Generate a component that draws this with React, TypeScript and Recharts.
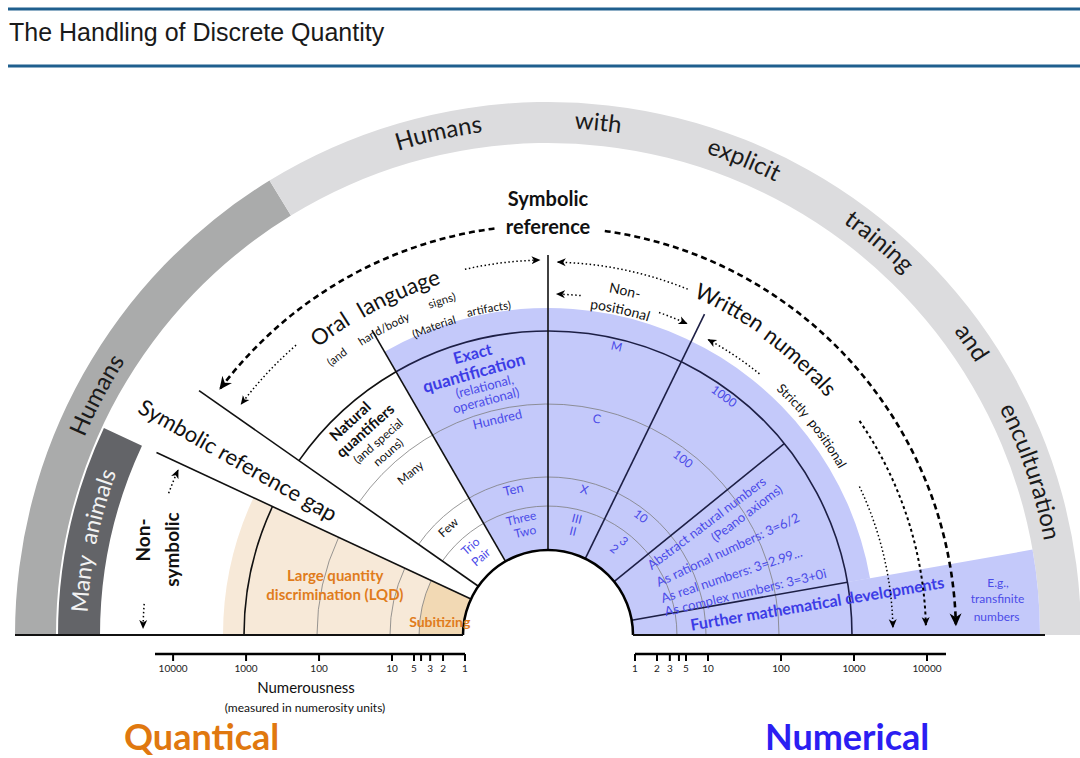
import React from 'react';
import { PieChart, Pie, Cell, LineChart, Line, XAxis, YAxis } from 'recharts';

const W = 1080;
const H = 758;
const CX = 548;
const CY = 635;
const FONT = "Lato, 'Open Sans', 'DejaVu Sans', sans-serif";
const BLUE_FILL = '#c4c9fa';
const LABEL_BLUE = '#4b4be8';
const ORANGE = '#e07c1c';
const NAVY = '#1d1f45';

// radius scale (numerousness -> px, logarithmic)
const R_HOLE = 85;
const R_DECADE = 73;
const rOf = (n: number) => R_HOLE + R_DECADE * Math.log10(n);

// ---------- data ----------
const TITLE = 'The Handling of Discrete Quantity';

// angular spans in degrees, clockwise from the left baseline (180°) to the right (0°)
const outerBand = [
  { name: 'Humans', span: 58.5, fill: '#aaabab' },
  { name: 'Humans with explicit training and enculturation', span: 121.5, fill: '#dcdcde' },
];
const animalBand = [
  { name: 'Many animals', span: 25, fill: '#636468' },
  { name: 'rest', span: 155, fill: 'none' },
];
const quanticalSector = [
  { name: 'Large quantity discrimination (LQD)', span: 25, fill: '#f7e9d8' },
  { name: 'rest', span: 155, fill: 'none' },
];
const subitizingSector = [
  { name: 'Subitizing', span: 25, fill: '#f2d9b4' },
  { name: 'rest', span: 155, fill: 'none' },
];
const numericalSector = [
  { name: 'rest', span: 60, fill: 'none' },
  { name: 'Exact quantification', span: 110, fill: BLUE_FILL },
  { name: 'Further', span: 10, fill: BLUE_FILL },
];
const furtherSector = [
  { name: 'rest', span: 170, fill: 'none' },
  { name: 'Further mathematical developments', span: 10, fill: BLUE_FILL },
];

// numerousness values of the concentric arcs
const thinArcValues = [4, 10, 100];
const darkArcValue = 1000;
// radial boundary lines (angle, outer radius px)
const radialLines = [
  { a: 155, r1: 432, color: '#111' },
  { a: 145, r1: 426, color: '#111' },
  { a: 120, r1: 352, color: '#111' },
  { a: 90, r1: 380, color: '#111' },
  { a: 64, r1: 357, color: NAVY },
  { a: 39, r1: rOf(1000), color: NAVY },
  { a: 10, r1: rOf(1000), color: NAVY },
];

// axis ticks
const quantTicks = [1, 2, 3, 4, 5, 10, 100, 1000, 10000];
const numTicks = [1, 2, 3, 4, 5, 10, 100, 1000, 10000];
const quantAxisData = quantTicks.map((n) => ({ n, y: 0 }));
const numAxisData = numTicks.map((n) => ({ n, y: 0 }));

// words on the outer bands (angle of centre, baseline radius)
const bandWords = [
  { text: 'Humans', a: 102.3, r: 507, size: 24, color: '#1a1a1a' },
  { text: 'with', a: 84.4, r: 507, size: 24, color: '#1a1a1a' },
  { text: 'explicit', a: 67.6, r: 507, size: 24, color: '#1a1a1a' },
  { text: 'training', a: 49.9, r: 507, size: 24, color: '#1a1a1a' },
  { text: 'and', a: 34.6, r: 507, size: 24, color: '#1a1a1a' },
  { text: 'enculturation', a: 18.7, r: 505, size: 24, color: '#1a1a1a' },
  { text: 'Humans', a: 152, r: 504, size: 24, color: '#1a1a1a' },
  { text: 'Many  animals', a: 168.3, r: 461, size: 23, color: '#f2f2f2' },
];

// curved labels inside the diagram
const arcWords = [
  { text: 'Oral', a: 125.5, r: 368, size: 22 },
  { text: 'language', a: 113.6, r: 367, size: 22 },
  { text: '(and', a: 127.2, r: 345, size: 11.5 },
  { text: 'hand/body', a: 118.2, r: 344, size: 11.5 },
  { text: 'signs)', a: 107.6, r: 347, size: 11.5 },
  { text: '(Material', a: 110.3, r: 325, size: 11.5 },
  { text: 'artifacts)', a: 100.3, r: 328, size: 11.5 },
  { text: 'Non-', a: 77.4, r: 348, size: 14 },
  { text: 'positional', a: 77.5, r: 329, size: 14 },
  { text: 'Written', a: 61, r: 368, size: 22 },
  { text: 'numerals', a: 47.3, r: 366, size: 22 },
  { text: 'Strictly  positional', a: 38.4, r: 335, size: 13 },
];

// labels rotated tangentially (rotation = 90 - angle)
const tangentLabels = [
  { text: 'Exact', a: 105, r: 292, size: 16, bold: true, color: '#3c3ce6' },
  { text: 'quantification', a: 105.8, r: 273, size: 17, bold: true, color: '#3c3ce6' },
  { text: '(relational,', a: 104.3, r: 257, size: 13, bold: false, color: LABEL_BLUE },
  { text: 'operational)', a: 104.8, r: 243, size: 13, bold: false, color: LABEL_BLUE },
  { text: 'Hundred', a: 103.2, r: 222, size: 13, bold: false, color: LABEL_BLUE },
  { text: 'Ten', a: 103.4, r: 150, size: 13, bold: false, color: LABEL_BLUE },
  { text: 'Three', a: 103, r: 120, size: 12, bold: false, color: LABEL_BLUE },
  { text: 'Two', a: 102.5, r: 106, size: 12, bold: false, color: LABEL_BLUE },
  { text: 'M', a: 76.6, r: 297, size: 12, bold: false, color: LABEL_BLUE },
  { text: 'C', a: 77.3, r: 222, size: 12, bold: false, color: LABEL_BLUE },
  { text: 'X', a: 76, r: 150, size: 12, bold: false, color: LABEL_BLUE },
  { text: 'III', a: 76, r: 120, size: 12, bold: false, color: LABEL_BLUE },
  { text: 'II', a: 76.5, r: 107, size: 12, bold: false, color: LABEL_BLUE },
  { text: '1000', a: 53.6, r: 297, size: 12, bold: false, color: LABEL_BLUE },
  { text: '100', a: 52.5, r: 222, size: 12, bold: false, color: LABEL_BLUE },
  { text: '10', a: 52, r: 151, size: 12, bold: false, color: LABEL_BLUE },
  { text: '3', a: 51, r: 121, size: 12, bold: false, color: LABEL_BLUE },
  { text: '2', a: 52.4, r: 109, size: 12, bold: false, color: LABEL_BLUE },
  { text: 'Natural', a: 132.8, r: 292, size: 15, bold: true, color: '#111' },
  { text: 'quantifiers', a: 131.8, r: 275, size: 15, bold: true, color: '#111' },
  { text: '(and special', a: 131.2, r: 258, size: 12, bold: false, color: '#111' },
  { text: 'nouns)', a: 131.2, r: 243, size: 12, bold: false, color: '#111' },
  { text: 'Many', a: 130.3, r: 213, size: 12, bold: false, color: '#111' },
  { text: 'Few', a: 132.8, r: 147, size: 12, bold: false, color: '#111' },
  { text: 'Trio', a: 131.2, r: 118, size: 12, bold: false, color: LABEL_BLUE },
  { text: 'Pair', a: 130.7, r: 103, size: 12, bold: false, color: LABEL_BLUE },
];

// labels rotated radially
const radialLabels = [
  { text: 'Abstract natural numbers', a: 35.3, r: 194, rot: -37 },
  { text: '(Peano axioms)', a: 31.6, r: 233, rot: -37 },
  { text: 'As rational numbers: 3=6/2', a: 25.5, r: 199, rot: -25 },
  { text: 'As real numbers: 3=2.99...', a: 18.2, r: 193, rot: -18.5 },
  { text: 'As complex numbers: 3=3+0i', a: 12.3, r: 202, rot: -13.5 },
];

// dashed / dotted arrows along arcs: radius, from angle, to angle
const arrows = [
  { r: 410, a0: 97.5, a1: 143, kind: 'dash' },
  { r: 408, a0: 82, a1: 1.5, kind: 'dash' },
  { r: 375, a0: 102.8, a1: 91.3, kind: 'dot' },
  { r: 384, a0: 131, a1: 143, kind: 'dot' },
  { r: 373, a0: 68, a1: 88.5, kind: 'dot' },
  { r: 341, a0: 84.5, a1: 88.5, kind: 'dot' },
  { r: 341, a0: 71, a1: 66, kind: 'dot' },
  { r: 336, a0: 51, a1: 61.5, kind: 'dot' },
  { r: 345, a0: 25.5, a1: 1.3, kind: 'dot' },
  { r: 378, a0: 34.5, a1: 1.5, kind: 'dot2' },
  { r: 405, a0: 159.5, a1: 156, kind: 'dot' },
  { r: 405, a0: 175.6, a1: 179, kind: 'dot' },
];

// ---------- geometry helpers ----------
const pt = (r: number, a: number): [number, number] => [
  CX + r * Math.cos((a * Math.PI) / 180),
  CY - r * Math.sin((a * Math.PI) / 180),
];
const arcD = (r: number, a0: number, a1: number) => {
  const [x0, y0] = pt(r, a0);
  const [x1, y1] = pt(r, a1);
  const large = Math.abs(a1 - a0) > 180 ? 1 : 0;
  const sweep = a1 < a0 ? 1 : 0;
  return `M${x0.toFixed(2)},${y0.toFixed(2)} A${r},${r} 0 ${large} ${sweep} ${x1.toFixed(2)},${y1.toFixed(2)}`;
};

function CurvedText({ id, text, a, r, size, color, bold }: any) {
  return (
    <g>
      <path id={id} d={arcD(r, a + 35, a - 35)} fill="none" stroke="none" />
      <text fontSize={size} fill={color} fontFamily={FONT} fontWeight={bold ? 700 : 400} style={{ whiteSpace: 'pre' }}>
        <textPath href={`#${id}`} startOffset="50%" textAnchor="middle">
          {text}
        </textPath>
      </text>
    </g>
  );
}

function Overlay() {
  const dark = rOf(darkArcValue);
  return (
    <svg width={W} height={H} style={{ position: 'absolute', left: 0, top: 0 }}>
      <g fontFamily={FONT}>
        <defs>
          <marker id="ahBig" markerWidth="16" markerHeight="16" refX="11" refY="8" orient="auto" markerUnits="userSpaceOnUse">
            <path d="M0,2 L13,8 L0,14 L4,8 Z" fill="#000" />
          </marker>
          <marker id="ahSmall" markerWidth="10" markerHeight="10" refX="8" refY="5" orient="auto" markerUnits="userSpaceOnUse">
            <path d="M0,1 L9,5 L0,9 L2.5,5 Z" fill="#000" />
          </marker>
        </defs>

        {/* title */}
        <line x1={8} y1={9} x2={W} y2={9} stroke="#1f5f8e" strokeWidth={3} />
        <line x1={8} y1={66} x2={W} y2={66} stroke="#1f5f8e" strokeWidth={3} />
        <text x={9} y={41} fontSize={25} fill="#1a1a1a" fontFamily="'Liberation Sans', Arial, sans-serif">
          {TITLE}
        </text>

        {/* concentric arcs */}
        {thinArcValues.map((v) => (
          <g key={v}>
            <path d={arcD(rOf(v), 180, 155)} fill="none" stroke="#7d7d7d" strokeWidth={0.8} />
            <path d={arcD(rOf(v), 145, 0)} fill="none" stroke="#7d7d7d" strokeWidth={0.8} />
          </g>
        ))}
        <path d={arcD(dark, 180, 155)} fill="none" stroke="#111" strokeWidth={1.6} />
        <path d={arcD(dark, 145, 120)} fill="none" stroke="#111" strokeWidth={1.6} />
        <path d={arcD(dark, 120, 0)} fill="none" stroke={NAVY} strokeWidth={1.6} />

        {/* radial lines */}
        {radialLines.map((l) => {
          const [x0, y0] = pt(R_HOLE, l.a);
          const [x1, y1] = pt(l.r1, l.a);
          return <line key={l.a} x1={x0} y1={y0} x2={x1} y2={y1} stroke={l.color} strokeWidth={1.6} />;
        })}

        {/* hole & baseline */}
        <path d={arcD(R_HOLE, 180, 0)} fill="#fff" stroke="#000" strokeWidth={2.5} />
        <line x1={pt(533, 180)[0]} y1={CY} x2={pt(R_HOLE, 180)[0]} y2={CY} stroke="#111" strokeWidth={2} />
        <line x1={pt(R_HOLE, 0)[0]} y1={CY} x2={pt(497, 0)[0]} y2={CY} stroke="#111" strokeWidth={2} />

        {/* band words */}
        {bandWords.map((w, i) => (
          <CurvedText key={`bw${i}`} id={`bw${i}`} {...w} />
        ))}
        {arcWords.map((w, i) => (
          <CurvedText key={`aw${i}`} id={`aw${i}`} {...w} color="#111" />
        ))}

        {/* tangential labels */}
        {tangentLabels.map((l, i) => {
          const [x, y] = pt(l.r, l.a);
          return (
            <text
              key={`tl${i}`}
              x={x}
              y={y}
              fontSize={l.size}
              fontWeight={l.bold ? 700 : 400}
              fill={l.color}
              textAnchor="middle"
              dominantBaseline="central"
              transform={`rotate(${90 - l.a} ${x} ${y})`}
            >
              {l.text}
            </text>
          );
        })}
        {radialLabels.map((l, i) => {
          const [x, y] = pt(l.r, l.a);
          return (
            <text key={`rl${i}`} x={x} y={y} fontSize={13} fill={LABEL_BLUE} textAnchor="middle" dominantBaseline="central" transform={`rotate(${l.rot} ${x} ${y})`}>
              {l.text}
            </text>
          );
        })}

        {/* straight labels */}
        {(() => {
          const [x, y] = pt(356, 150.5);
          return (
            <text x={x} y={y} fontSize={22} fill="#111" textAnchor="middle" dominantBaseline="central" transform={`rotate(29.5 ${x} ${y})`}>
              Symbolic reference gap
            </text>
          );
        })()}
        {(() => {
          const [x1, y1] = pt(416, 166.8);
          const [x2, y2] = pt(386, 167.2);
          return (
            <g fontWeight={700} fontSize={19} fill="#111">
              <text x={x1} y={y1} textAnchor="middle" dominantBaseline="central" transform={`rotate(-90 ${x1} ${y1})`}>Non-</text>
              <text x={x2} y={y2} textAnchor="middle" dominantBaseline="central" transform={`rotate(-90 ${x2} ${y2})`}>symbolic</text>
            </g>
          );
        })()}
        <g fontWeight={700} fontSize={20} fill="#111" textAnchor="middle">
          <text x={pt(437, 90)[0]} y={pt(437, 90)[1]} dominantBaseline="central">Symbolic</text>
          <text x={pt(409, 90)[0]} y={pt(409, 90)[1]} dominantBaseline="central">reference</text>
        </g>
        {(() => {
          const [x1, y1] = pt(221, 164.3);
          const [x2, y2] = pt(217, 169.1);
          const [x3, y3] = pt(109, 173.1);
          return (
            <g fontWeight={700} fill={ORANGE} textAnchor="middle">
              <text x={x1} y={y1} fontSize={15} dominantBaseline="central">Large quantity</text>
              <text x={x2} y={y2} fontSize={15} dominantBaseline="central">discrimination (LQD)</text>
              <text x={x3} y={y3} fontSize={14} dominantBaseline="central">Subitizing</text>
            </g>
          );
        })()}
        {(() => {
          const [x, y] = pt(271, 6.8);
          return (
            <text x={x} y={y} fontSize={16} fontWeight={700} fill="#3c3ce6" textAnchor="middle" dominantBaseline="central" transform={`rotate(-9.6 ${x} ${y})`}>
              Further mathematical developments
            </text>
          );
        })()}
        {(() => {
          const p1 = pt(453, 6.6);
          const p2 = pt(451, 4.6);
          const p3 = pt(449, 2.4);
          return (
            <g fontSize={12} fill={LABEL_BLUE} textAnchor="middle">
              <text x={p1[0]} y={p1[1]} dominantBaseline="central">E.g.,</text>
              <text x={p2[0]} y={p2[1]} dominantBaseline="central">transfinite</text>
              <text x={p3[0]} y={p3[1]} dominantBaseline="central">numbers</text>
            </g>
          );
        })()}

        {/* arrows */}
        {arrows.map((ar, i) => (
          <path
            key={`ar${i}`}
            d={arcD(ar.r, ar.a0, ar.a1)}
            fill="none"
            stroke="#000"
            strokeWidth={ar.kind === 'dash' ? 2.6 : ar.kind === 'dot2' ? 2 : 1.5}
            strokeDasharray={ar.kind === 'dash' ? '6 4' : ar.kind === 'dot2' ? '3 3' : '1.5 2.5'}
            markerEnd={ar.kind === 'dash' ? 'url(#ahBig)' : 'url(#ahSmall)'}
          />
        ))}

        {/* axis captions */}
        <text x={306} y={687} fontSize={15} fill="#111" textAnchor="middle" dominantBaseline="central">Numerousness</text>
        <text x={305} y={707} fontSize={12} fill="#111" textAnchor="middle" dominantBaseline="central">(measured in numerosity units)</text>
        <text x={124} y={750} fontSize={36} fontWeight={700} fill="#e0780f">Quantical</text>
        <text x={765} y={750} fontSize={36} fontWeight={700} fill="#2b1ef2">Numerical</text>
      </g>
    </svg>
  );
}

function AxisChart({ data, ticks, domain, reversed, left, width }: any) {
  const pad = 12;
  return (
    <div style={{ position: 'absolute', left: left - pad, top: 604 }}>
      <LineChart width={width + 2 * pad} height={80} data={data} margin={{ top: 10, right: pad, left: pad, bottom: 0 }}>
        <XAxis
          dataKey="n"
          type="number"
          scale="log"
          domain={domain}
          allowDataOverflow
          reversed={reversed}
          ticks={ticks}
          interval={0}
          height={30}
          tickSize={7}
          tickMargin={4}
          axisLine={{ stroke: '#000', strokeWidth: 2.5 }}
          tickLine={{ stroke: '#000', strokeWidth: 2 }}
          tick={{ fontSize: 10, fill: '#222', fontFamily: FONT }}
          tickFormatter={(v: number) => (v === 4 ? '' : String(v))}
        />
        <YAxis hide domain={[0, 1]} />
        <Line dataKey="y" stroke="none" dot={false} isAnimationActive={false} />
      </LineChart>
    </div>
  );
}

const pieProps = {
  dataKey: 'span',
  cx: CX,
  cy: CY,
  startAngle: 180,
  endAngle: 0,
  stroke: 'none',
  isAnimationActive: false,
};

export default function App() {
  return (
    <div style={{ position: 'absolute', left: 0, top: 0, width: W, height: H, background: '#fff', fontFamily: FONT }}>
      <div style={{ position: 'absolute', left: 0, top: 0 }}>
        <PieChart width={W} height={H} margin={{ top: 0, right: 0, bottom: 0, left: 0 }}>
          <Pie {...pieProps} data={outerBand} innerRadius={492} outerRadius={533}>
            {outerBand.map((d, i) => <Cell key={i} fill={d.fill} />)}
          </Pie>
          <Pie {...pieProps} data={animalBand} innerRadius={448} outerRadius={490}>
            {animalBand.map((d, i) => <Cell key={i} fill={d.fill} />)}
          </Pie>
          <Pie {...pieProps} data={furtherSector} innerRadius={R_HOLE} outerRadius={492}>
            {furtherSector.map((d, i) => <Cell key={i} fill={d.fill} />)}
          </Pie>
          <Pie {...pieProps} data={numericalSector} innerRadius={R_HOLE} outerRadius={327}>
            {numericalSector.map((d, i) => <Cell key={i} fill={d.fill} />)}
          </Pie>
          <Pie {...pieProps} data={quanticalSector} innerRadius={R_HOLE} outerRadius={325}>
            {quanticalSector.map((d, i) => <Cell key={i} fill={d.fill} />)}
          </Pie>
          <Pie {...pieProps} data={subitizingSector} innerRadius={R_HOLE} outerRadius={rOf(4)}>
            {subitizingSector.map((d, i) => <Cell key={i} fill={d.fill} />)}
          </Pie>
        </PieChart>
      </div>
      <Overlay />
      <AxisChart data={quantAxisData} ticks={quantTicks} domain={[1, 17700]} reversed left={155} width={310} />
      <AxisChart data={numAxisData} ticks={numTicks} domain={[1, 18200]} reversed={false} left={635} width={311} />
    </div>
  );
}
